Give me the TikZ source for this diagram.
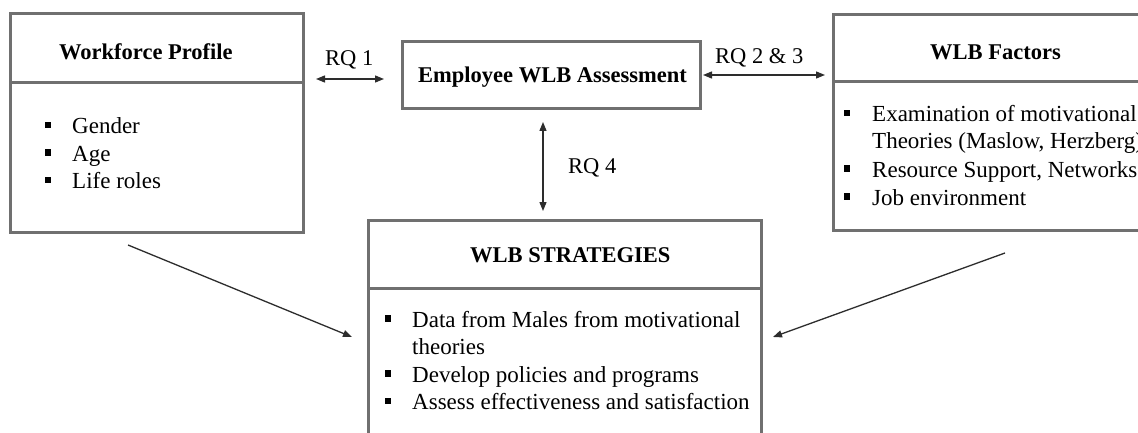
\documentclass[tikz,border=0pt]{standalone}
\usepackage{fontspec}
\setmainfont{Liberation Serif}
\usetikzlibrary{arrows.meta}
\definecolor{boxgray}{RGB}{112,112,112}
\definecolor{linegray}{RGB}{45,45,45}
\begin{document}
\begin{tikzpicture}[x=1pt,y=-1pt,
  boxline/.style={draw=boxgray, line width=3pt, inner sep=0pt},
  ttl/.style={anchor=base west, inner sep=0pt, font=\fontsize{22.5}{27}\selectfont\bfseries},
  rq/.style={anchor=base west, inner sep=0pt, font=\fontsize{22.5}{27}\selectfont},
  itm/.style={anchor=base west, inner sep=0pt, font=\fontsize{23}{27.5}\selectfont},
  bul/.style={fill=black, minimum size=6.5pt, inner sep=0pt},
  conn/.style={draw=linegray, line width=1.3pt, -{Triangle[length=9pt,width=7pt]}},
  dconn/.style={draw=linegray, line width=1.3pt, {Triangle[length=9pt,width=7pt]}-{Triangle[length=9pt,width=7pt]}}
]
\clip (0,0) rectangle (1138,433);
\fill[white] (0,0) rectangle (1138,433);

% boxes
\node[boxline, minimum width=293pt, minimum height=149pt] (wfb) at (156.5,157.5) {};
\node[boxline, minimum width=293pt, minimum height=69pt] (wfh) at (156.5,48.5) {};
\node[boxline, minimum width=298pt, minimum height=67pt] (emp) at (551,75.5) {};
\node[boxline, minimum width=332pt, minimum height=148pt] (fab) at (999,156) {};
\node[boxline, minimum width=332pt, minimum height=67pt] (fah) at (999,48.5) {};
\node[boxline, minimum width=393pt, minimum height=172pt] (stb) at (564.5,374) {};
\node[boxline, minimum width=393pt, minimum height=68pt] (sth) at (564.5,254) {};

% titles
\node[ttl] (wft) at (59,60) {Workforce Profile};
\node[ttl] (empt) at (418,83) {Employee WLB Assessment};
\node[ttl] (fat) at (930,60) {WLB Factors};
\node[ttl] (stt) at (470,262) {WLB STRATEGIES};

% RQ labels
\node[rq] (rq1) at (325,66) {RQ 1};
\node[rq] (rq23) at (715,64) {RQ 2 \& 3};
\node[rq] (rq4) at (568,174) {RQ 4};

% workforce items
\node[itm] (w1) at (72,133.5) {Gender};
\node[itm] (w2) at (72,161) {Age};
\node[itm] (w3) at (72,188.5) {Life roles};
\node[bul] (wb1) at (48,125) {};
\node[bul] (wb2) at (48,152.5) {};
\node[bul] (wb3) at (48,180) {};

% factors items
\node[itm] (f1) at (872,121.5) {Examination of motivational};
\node[itm] (f2) at (872,149) {Theories (Maslow, Herzberg)};
\node[itm] (f3) at (872,177) {Resource Support, Networks,};
\node[itm] (f4) at (872,205) {Job environment};
\node[bul] (fb1) at (847,113) {};
\node[bul] (fb3) at (847,168.5) {};
\node[bul] (fb4) at (847,196.5) {};

% strategies items
\node[itm] (s1) at (412,327) {Data from Males from motivational};
\node[itm] (s2) at (412,354.5) {theories};
\node[itm] (s3) at (412,382) {Develop policies and programs};
\node[itm] (s4) at (412,409.5) {Assess effectiveness and satisfaction};
\node[bul] (sb1) at (388,318.5) {};
\node[bul] (sb3) at (388,373.5) {};
\node[bul] (sb4) at (388,401) {};

% connector ends
\coordinate (a1) at (316,79);
\coordinate (a2) at (384,79);
\coordinate (b1) at (703,75);
\coordinate (b2) at (825,75);
\coordinate (c1) at (543,122);
\coordinate (c2) at (543,211);
\coordinate (d1) at (128,245);
\coordinate (d2) at (352,337);
\coordinate (e1) at (1005,253);
\coordinate (e2) at (773,337);

\draw[dconn] (a1) -- (a2);
\draw[dconn] (b1) -- (b2);
\draw[dconn] (c1) -- (c2);
\draw[conn] (d1) -- (d2);
\draw[conn] (e1) -- (e2);
\end{tikzpicture}
\end{document}
